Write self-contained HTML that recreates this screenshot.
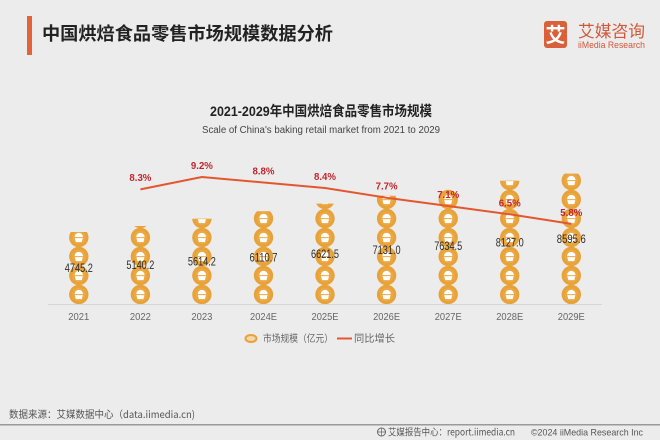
<!DOCTYPE html>
<html><head><meta charset="utf-8"><style>
html,body{margin:0;padding:0;background:#ECECEC;}
svg{display:block;}
text{font-family:"Liberation Sans","Noto Sans CJK SC",sans-serif;}
.cjk{font-family:"Noto Sans CJK SC","WenQuanYi Zen Hei",sans-serif;}
</style></head><body>
<svg width="660" height="440" viewBox="0 0 660 440" xmlns="http://www.w3.org/2000/svg">
<rect width="660" height="440" fill="#ECECEC"/>
<defs>
<g id="ic">
<circle r="9.7" fill="#E8A23A"/>
<circle r="6.8" fill="#ECA842"/>
<path d="M-4.2,-0.4 A4.2,4.2 0 0 1 4.2,-0.4 Z" fill="#fff"/>
<path d="M-4,0.6 L4,0.6 L3,4.6 L-3,4.6 Z" fill="#fff"/>
</g>
<clipPath id="c0"><rect x="60" y="232.0" width="40" height="72"/></clipPath>
<clipPath id="c1"><rect x="121" y="226.0" width="40" height="78"/></clipPath>
<clipPath id="c2"><rect x="182" y="218.8" width="40" height="85.2"/></clipPath>
<clipPath id="c3"><rect x="244" y="211.3" width="40" height="92.7"/></clipPath>
<clipPath id="c4"><rect x="305" y="203.6" width="40" height="100.4"/></clipPath>
<clipPath id="c5"><rect x="367" y="195.8" width="40" height="108.2"/></clipPath>
<clipPath id="c6"><rect x="428" y="188.2" width="40" height="115.8"/></clipPath>
<clipPath id="c7"><rect x="490" y="180.7" width="40" height="123.3"/></clipPath>
<clipPath id="c8"><rect x="551" y="173.6" width="40" height="130.4"/></clipPath>
</defs>

<!-- header -->
<rect x="27" y="16" width="5" height="39" fill="#E3623A"/>
<text x="42" y="40" class="cjk" font-size="18" font-weight="bold" fill="#222" textLength="291" lengthAdjust="spacingAndGlyphs">中国烘焙食品零售市场规模数据分析</text>

<rect x="544" y="21" width="23" height="27" rx="3" fill="#D8613C"/>
<text x="555.5" y="42" class="cjk" font-size="20" font-weight="bold" fill="#fff" text-anchor="middle">艾</text>
<text x="578" y="37" class="cjk" font-size="16.5" fill="#D2583A" textLength="67" lengthAdjust="spacingAndGlyphs">艾媒咨询</text>
<text x="578" y="48" font-size="9" fill="#D2583A" textLength="67" lengthAdjust="spacingAndGlyphs">iiMedia Research</text>

<!-- chart titles -->
<text x="210" y="116" font-size="14" font-weight="bold" fill="#222" textLength="222" lengthAdjust="spacingAndGlyphs">2021-2029年中国烘焙食品零售市场规模</text>
<text x="202" y="133" font-size="10" fill="#444" textLength="238" lengthAdjust="spacingAndGlyphs">Scale of China's baking retail market from 2021 to 2029</text>

<!-- axis -->
<line x1="48" y1="304.5" x2="602" y2="304.5" stroke="#D6D6D6" stroke-width="1"/>

<!-- bars -->
<g clip-path="url(#c0)"><use href="#ic" x="78.8" y="294.5"/><use href="#ic" x="78.8" y="275.5"/><use href="#ic" x="78.8" y="256.5"/><use href="#ic" x="78.8" y="237.5"/></g>
<g clip-path="url(#c1)"><use href="#ic" x="140.4" y="294.5"/><use href="#ic" x="140.4" y="275.5"/><use href="#ic" x="140.4" y="256.5"/><use href="#ic" x="140.4" y="237.5"/><use href="#ic" x="140.4" y="218.5"/></g>
<g clip-path="url(#c2)"><use href="#ic" x="201.9" y="294.5"/><use href="#ic" x="201.9" y="275.5"/><use href="#ic" x="201.9" y="256.5"/><use href="#ic" x="201.9" y="237.5"/><use href="#ic" x="201.9" y="218.5"/></g>
<g clip-path="url(#c3)"><use href="#ic" x="263.5" y="294.5"/><use href="#ic" x="263.5" y="275.5"/><use href="#ic" x="263.5" y="256.5"/><use href="#ic" x="263.5" y="237.5"/><use href="#ic" x="263.5" y="218.5"/></g>
<g clip-path="url(#c4)"><use href="#ic" x="325.0" y="294.5"/><use href="#ic" x="325.0" y="275.5"/><use href="#ic" x="325.0" y="256.5"/><use href="#ic" x="325.0" y="237.5"/><use href="#ic" x="325.0" y="218.5"/><use href="#ic" x="325.0" y="199.5"/></g>
<g clip-path="url(#c5)"><use href="#ic" x="386.6" y="294.5"/><use href="#ic" x="386.6" y="275.5"/><use href="#ic" x="386.6" y="256.5"/><use href="#ic" x="386.6" y="237.5"/><use href="#ic" x="386.6" y="218.5"/><use href="#ic" x="386.6" y="199.5"/></g>
<g clip-path="url(#c6)"><use href="#ic" x="448.2" y="294.5"/><use href="#ic" x="448.2" y="275.5"/><use href="#ic" x="448.2" y="256.5"/><use href="#ic" x="448.2" y="237.5"/><use href="#ic" x="448.2" y="218.5"/><use href="#ic" x="448.2" y="199.5"/></g>
<g clip-path="url(#c7)"><use href="#ic" x="509.7" y="294.5"/><use href="#ic" x="509.7" y="275.5"/><use href="#ic" x="509.7" y="256.5"/><use href="#ic" x="509.7" y="237.5"/><use href="#ic" x="509.7" y="218.5"/><use href="#ic" x="509.7" y="199.5"/><use href="#ic" x="509.7" y="180.5"/></g>
<g clip-path="url(#c8)"><use href="#ic" x="571.3" y="294.5"/><use href="#ic" x="571.3" y="275.5"/><use href="#ic" x="571.3" y="256.5"/><use href="#ic" x="571.3" y="237.5"/><use href="#ic" x="571.3" y="218.5"/><use href="#ic" x="571.3" y="199.5"/><use href="#ic" x="571.3" y="180.5"/></g>

<!-- value labels -->
<g font-size="12" fill="#2E2E2E" text-anchor="middle">
<text x="78.8" y="272" textLength="28" lengthAdjust="spacingAndGlyphs">4745.2</text>
<text x="140.4" y="269" textLength="28" lengthAdjust="spacingAndGlyphs">5140.2</text>
<text x="201.9" y="265.4" textLength="28" lengthAdjust="spacingAndGlyphs">5614.2</text>
<text x="263.5" y="261.7" textLength="28" lengthAdjust="spacingAndGlyphs">6110.7</text>
<text x="325.0" y="257.8" textLength="28" lengthAdjust="spacingAndGlyphs">6621.5</text>
<text x="386.6" y="253.9" textLength="28" lengthAdjust="spacingAndGlyphs">7131.0</text>
<text x="448.2" y="250.1" textLength="28" lengthAdjust="spacingAndGlyphs">7634.5</text>
<text x="509.7" y="246.4" textLength="28" lengthAdjust="spacingAndGlyphs">8127.0</text>
<text x="571.3" y="242.8" textLength="29" lengthAdjust="spacingAndGlyphs">8595.6</text>
</g>

<!-- growth line -->
<polyline fill="none" stroke="#E4572E" stroke-width="2" stroke-linejoin="round"
points="140.4,189.4 201.9,177.0 263.5,182.5 325.0,188.0 386.6,197.7 448.2,206.0 509.7,214.3 571.3,223.9"/>
<g font-size="10.5" font-weight="bold" fill="#C0272D" text-anchor="middle">
<text x="140.4" y="181" textLength="22" lengthAdjust="spacingAndGlyphs">8.3%</text>
<text x="201.9" y="169" textLength="22" lengthAdjust="spacingAndGlyphs">9.2%</text>
<text x="263.5" y="174.5" textLength="22" lengthAdjust="spacingAndGlyphs">8.8%</text>
<text x="325.0" y="180" textLength="22" lengthAdjust="spacingAndGlyphs">8.4%</text>
<text x="386.6" y="189.7" textLength="22" lengthAdjust="spacingAndGlyphs">7.7%</text>
<text x="448.2" y="198" textLength="22" lengthAdjust="spacingAndGlyphs">7.1%</text>
<text x="509.7" y="206.3" textLength="22" lengthAdjust="spacingAndGlyphs">6.5%</text>
<text x="571.3" y="215.9" textLength="22" lengthAdjust="spacingAndGlyphs">5.8%</text>
</g>

<!-- x labels -->
<g font-size="10.5" fill="#666" text-anchor="middle">
<text x="78.8" y="320" textLength="21" lengthAdjust="spacingAndGlyphs">2021</text>
<text x="140.4" y="320" textLength="21" lengthAdjust="spacingAndGlyphs">2022</text>
<text x="201.9" y="320" textLength="21" lengthAdjust="spacingAndGlyphs">2023</text>
<text x="263.5" y="320" textLength="27" lengthAdjust="spacingAndGlyphs">2024E</text>
<text x="325.0" y="320" textLength="27" lengthAdjust="spacingAndGlyphs">2025E</text>
<text x="386.6" y="320" textLength="27" lengthAdjust="spacingAndGlyphs">2026E</text>
<text x="448.2" y="320" textLength="27" lengthAdjust="spacingAndGlyphs">2027E</text>
<text x="509.7" y="320" textLength="27" lengthAdjust="spacingAndGlyphs">2028E</text>
<text x="571.3" y="320" textLength="27" lengthAdjust="spacingAndGlyphs">2029E</text>
</g>

<!-- legend -->
<ellipse cx="251" cy="338.5" rx="5.5" ry="3.5" fill="#F3D7A8" stroke="#E8A23A" stroke-width="2"/>
<text x="263" y="342" class="cjk" font-size="10" fill="#666" textLength="70" lengthAdjust="spacingAndGlyphs">市场规模（亿元）</text>
<line x1="337" y1="338.5" x2="352" y2="338.5" stroke="#E4572E" stroke-width="2"/>
<text x="354" y="342" class="cjk" font-size="10" fill="#666" textLength="41" lengthAdjust="spacingAndGlyphs">同比增长</text>

<!-- footer -->
<text x="9" y="418" class="cjk" font-size="10" fill="#555" textLength="186" lengthAdjust="spacingAndGlyphs">数据来源：艾媒数据中心（data.iimedia.cn)</text>
<rect x="0" y="424" width="660" height="1.5" fill="#9A9A9A"/>
<circle cx="381.5" cy="432" r="4" fill="none" stroke="#666" stroke-width="1"/>
<path d="M377.5,432 H385.5 M381.5,428 V436" stroke="#666" stroke-width="0.7"/>
<text x="388" y="435.5" class="cjk" font-size="9.5" fill="#555" textLength="127" lengthAdjust="spacingAndGlyphs">艾媒报告中心：report.iimedia.cn</text>
<text x="531" y="435.5" font-size="9.5" fill="#555" textLength="112" lengthAdjust="spacingAndGlyphs">©2024 iiMedia Research Inc</text>
</svg>
</body></html>
